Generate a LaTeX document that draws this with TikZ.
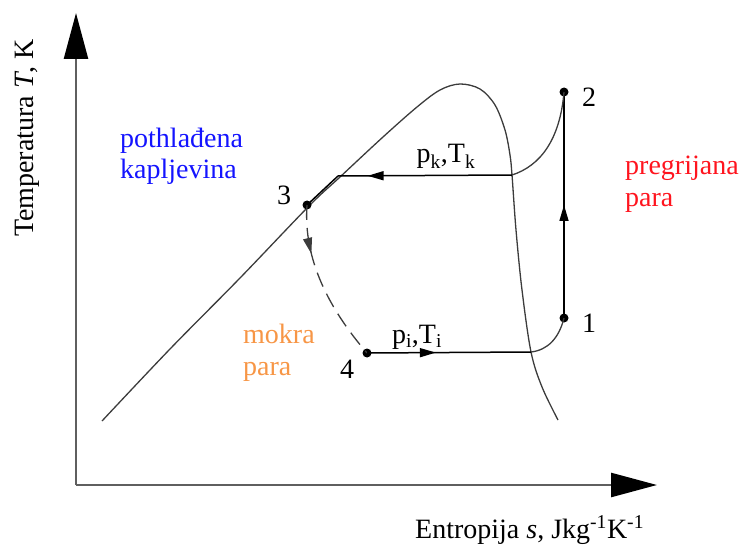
\documentclass[tikz,border=0pt]{standalone}
\usepackage{fontspec}
\setmainfont{Liberation Serif}
\usetikzlibrary{arrows.meta,decorations.markings}
\definecolor{subblue}{RGB}{20,20,255}
\definecolor{supred}{RGB}{255,20,30}
\definecolor{wetorange}{RGB}{247,150,70}
\definecolor{axisgray}{RGB}{95,95,95}
\definecolor{curvegray}{RGB}{60,60,60}
\begin{document}
\begin{tikzpicture}[x=1pt,y=-1pt,
  lbl/.style={font=\rmfamily\fontsize{28}{32}\selectfont, inner sep=0pt},
  dot/.style={circle, fill=black, inner sep=0pt, minimum size=9pt},
  axisline/.style={line width=2.5pt, draw=axisgray, -{Triangle[length=46pt,width=24pt,color=black]}},
  satcurve/.style={line width=1.3pt, draw=curvegray},
  cycleline/.style={line width=1.5pt, draw=black},
  midtip/.style={decoration={markings, mark=at position #1 with {\arrow{Triangle[length=16pt,width=9pt]}}}, postaction={decorate}},
]
\useasboundingbox (0,0) rectangle (746,545);
% axes
\coordinate (origin) at (76,485);
\coordinate (ytop) at (76,13);
\coordinate (xend) at (657,485);
\draw[axisline] (origin) -- (ytop);
\draw[axisline] (origin) -- (xend);
\node[lbl, rotate=90, anchor=base] (ylab) at (33,138) {Temperatura \textit{T}, K};
\node[lbl, anchor=base west] (xlab) at (415,538) {Entropija \textit{s}, Jkg\textsuperscript{-1}K\textsuperscript{-1}};
% saturation dome
\coordinate (kliq) at (338,176);
\coordinate (kdew) at (512,175);
\coordinate (idew) at (531,352);
\draw[satcurve] plot[smooth, tension=0.55] coordinates {(102,421) (170,349) (240,278) (309,206) (340,177) (383,137) (417,107) (440,90) (460,84) (480,89) (495,105) (505,130) (510,155) (512,175) (516,230) (522,290) (531,352) (542,387) (558,420)};
% cycle points
\node[dot] (n1) at (564,318) {};
\node[dot] (n2) at (564,92) {};
\node[dot] (n3) at (307,205) {};
\node[dot] (n4) at (367,353) {};
% cycle
\draw[cycleline, midtip=0.5] (n1.center) -- (n2.center);
\draw[satcurve] (n2.center) .. controls (560,140) and (540,166) .. (kdew);
\draw[cycleline, midtip=0.83] (kdew) -- (kliq);
\draw[cycleline] (kliq) -- (n3.center);
\draw[satcurve, dash pattern=on 15pt off 8pt, midtip=0.3] (n3.center) .. controls (303,260) and (330,310) .. (n4.center);
\draw[cycleline, midtip=0.42] (n4.center) -- (idew);
\draw[satcurve] (idew) .. controls (548,350) and (559,338) .. (n1.center);
% point labels
\node[lbl, anchor=base west] (l1) at (582,332) {1};
\node[lbl, anchor=base west] (l2) at (582,107) {2};
\node[lbl, anchor=base west] (l3) at (277,205) {3};
\node[lbl, anchor=base west] (l4) at (340,378) {4};
\node[lbl, anchor=base] (pk) at (446,163) {p\textsubscript{k},T\textsubscript{k}};
\node[lbl, anchor=base] (pi) at (417,343) {p\textsubscript{i},T\textsubscript{i}};
% region labels
\node[lbl, text=subblue, anchor=base west] (sub1) at (120,148) {pothlađena};
\node[lbl, text=subblue, anchor=base west] (sub2) at (120,179) {kapljevina};
\node[lbl, text=supred, anchor=base west] (sup1) at (625,175) {pregrijana};
\node[lbl, text=supred, anchor=base west] (sup2) at (625,207) {para};
\node[lbl, text=wetorange, anchor=base west] (wet1) at (243,343) {mokra};
\node[lbl, text=wetorange, anchor=base west] (wet2) at (243,375) {para};
\end{tikzpicture}
\end{document}
